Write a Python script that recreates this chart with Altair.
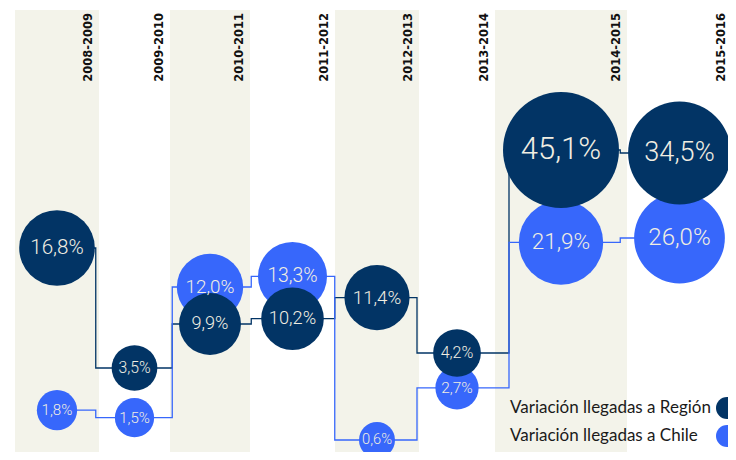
import altair as alt
import pandas as pd

# ---- data ----
periods = ["2008-2009", "2009-2010", "2010-2011", "2011-2012",
           "2012-2013", "2013-2014", "2014-2015", "2015-2016"]
region_values = [16.8, 3.5, 9.9, 10.2, 11.4, 4.2, 45.1, 34.5]
chile_values = [1.8, 1.5, 12.0, 13.3, 0.6, 2.7, 21.9, 26.0]
series_names = ["Variación llegadas a Región", "Variación llegadas a Chile"]
series_colors = ["#023465", "#3767FB"]

rows = []
for s_i, (name, vals) in enumerate(zip(series_names, [region_values, chile_values])):
    for i, (p, v) in enumerate(zip(periods, vals)):
        rows.append({
            "serie": name,
            "periodo": p,
            "pos": i + 0.5,
            "valor": v,
            "etiqueta": f"{v:.1f}".replace(".", ",") + "%",
            "capa": 1 - s_i,
        })
df = pd.DataFrame(rows)

bands = pd.DataFrame({"periodo": periods,
                      "inicio": list(range(len(periods))),
                      "fin": list(range(1, len(periods) + 1))})
shaded = bands.iloc[::2]
legend_df = pd.DataFrame({"serie": series_names})

W, H = 720, 444

x_scale = alt.Scale(domain=list(range(9)),
                    range=[7, 91, 162, 242, 327, 411, 487, 619, 724],
                    nice=False, zero=False)
y_scale = alt.Scale(domain=[0.6, 3.5, 4.2, 9.9, 12, 16.8, 26, 34.5, 45.1],
                    range=[432, 360, 345, 316, 279, 240, 230, 145, 142],
                    nice=False, zero=False)
size_scale = alt.Scale(domain=[0, 45.1], range=[1132, 13456], zero=False, nice=False)
text_scale = alt.Scale(domain=[0, 45.1], range=[14.5, 31], zero=False, nice=False)
color_scale = alt.Scale(domain=series_names, range=series_colors)
legend_y = alt.Scale(type="point", domain=series_names, range=[400, 428], padding=0)

bg = alt.Chart(shaded).mark_rect(color="#F3F3EA").encode(
    x=alt.X("inicio:Q", scale=x_scale, axis=None),
    x2="fin:Q",
    y=alt.value(2),
    y2=alt.value(H),
)

band_labels = alt.Chart(bands).mark_text(
    angle=270, align="right", baseline="alphabetic", dy=-7,
    font="DejaVu Sans", fontWeight="bold", fontSize=11.5, color="#111111",
).encode(
    x=alt.X("fin:Q", scale=x_scale, axis=None),
    y=alt.value(5),
    text="periodo:N",
)

lines = alt.Chart(df).mark_line(interpolate="step", strokeWidth=1.3).encode(
    x=alt.X("pos:Q", scale=x_scale, axis=None),
    y=alt.Y("valor:Q", scale=y_scale, axis=None),
    color=alt.Color("serie:N", scale=color_scale, legend=None),
    detail="serie:N",
    order="pos:Q",
)

circles = alt.Chart(df).mark_circle(opacity=1).encode(
    x=alt.X("pos:Q", scale=x_scale, axis=None),
    y=alt.Y("valor:Q", scale=y_scale, axis=None),
    size=alt.Size("valor:Q", scale=size_scale, legend=None),
    color=alt.Color("serie:N", scale=color_scale, legend=None),
    order=alt.Order("capa:Q"),
)

texts = alt.Chart(df).mark_text(
    font="Roboto", fontWeight=300, color="#F1EEE2", baseline="middle", align="center",
).encode(
    x=alt.X("pos:Q", scale=x_scale, axis=None),
    y=alt.Y("valor:Q", scale=y_scale, axis=None),
    text="etiqueta:N",
    size=alt.Size("valor:Q", scale=text_scale, legend=None),
)

legend_text = alt.Chart(legend_df).mark_text(
    align="left", baseline="middle", font="Lato", fontSize=17, color="#1a1a1a",
).encode(
    x=alt.value(502),
    y=alt.Y("serie:N", scale=legend_y, axis=None),
    text="serie:N",
)

legend_dots = alt.Chart(legend_df).mark_circle(size=484, opacity=1).encode(
    x=alt.value(719),
    y=alt.Y("serie:N", scale=legend_y, axis=None),
    color=alt.Color("serie:N", scale=color_scale, legend=None),
)

chart = alt.layer(bg, band_labels, lines, circles, texts, legend_text, legend_dots).resolve_scale(
    size="independent", y="independent"
).properties(
    width=W, height=H, padding=0,
    autosize=alt.AutoSizeParams(type="none"),
    background="white",
).configure_view(stroke=None)

chart.save("out.html", embed_options={"renderer": "svg", "actions": False})
